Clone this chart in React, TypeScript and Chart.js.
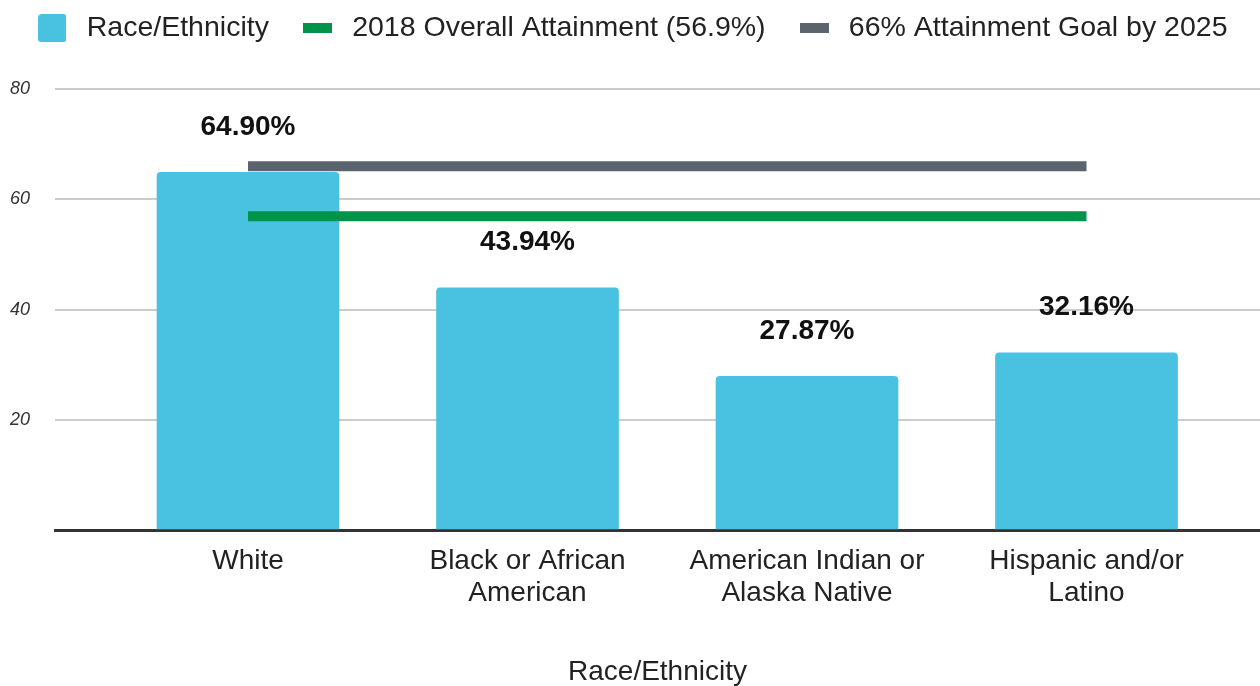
import React, { useEffect, useRef } from "react";
import { Chart, registerables } from "chart.js";

Chart.register(...registerables);

const categories: string[][] = [
  ["White"],
  ["Black or African", "American"],
  ["American Indian or", "Alaska Native"],
  ["Hispanic and/or", "Latino"],
];
const raceValues: number[] = [64.9, 43.94, 27.87, 32.16];
const overallAttainment: number[] = [56.9, 56.9, 56.9, 56.9];
const attainmentGoal: number[] = [66, 66, 66, 66];
const yTicks: number[] = [0, 20, 40, 60, 80];

const seriesNames = [
  "Race/Ethnicity",
  "2018 Overall Attainment (56.9%)",
  "66% Attainment Goal by 2025",
];
const xTitle = "Race/Ethnicity";

const BAR_COLOR = "#49c2e1";
const GREEN = "#00944a";
const GRAY = "#5b646d";
const TEXT = "#222222";
const FONT = "'Liberation Sans', Arial, Helvetica, sans-serif";
const LEGEND_FONT = 28.5;
const LEGEND_PAD = 29;

function makeMarker(color: string, w: number, h: number, r: number) {
  const c = document.createElement("canvas");
  c.width = w;
  c.height = h;
  const g = c.getContext("2d")!;
  g.fillStyle = color;
  g.beginPath();
  if ((g as any).roundRect) (g as any).roundRect(0, 0, w, h, r);
  else g.rect(0, 0, w, h);
  g.fill();
  return c;
}

export default function App() {
  const ref = useRef<HTMLCanvasElement | null>(null);

  useEffect(() => {
    document.body.style.margin = "0";
    if (!ref.current) return;

    const markers = [
      makeMarker(BAR_COLOR, 28, 28, 3),
      makeMarker(GREEN, 29, 10, 0),
      makeMarker(GRAY, 29, 10, 0),
    ];

    const legendSpacer = {
      id: "legendSpacer",
      beforeInit(chart: any) {
        const orig = chart.legend.fit;
        chart.legend.fit = function () {
          orig.call(this);
          this.height += 36.5;
        };
      },
    };

    const valueLabels = {
      id: "valueLabels",
      afterDatasetsDraw(chart: any) {
        const ctx = chart.ctx;
        const meta = chart.getDatasetMeta(0);
        ctx.save();
        ctx.font = `bold 28px ${FONT}`;
        ctx.fillStyle = "#111111";
        ctx.textAlign = "center";
        ctx.textBaseline = "middle";
        meta.data.forEach((bar: any, i: number) => {
          ctx.fillText(raceValues[i].toFixed(2) + "%", bar.x, bar.y - 45);
        });
        ctx.restore();
      },
    };

    const chart = new Chart(ref.current, {
      type: "bar",
      data: {
        datasets: [
          {
            type: "bar",
            label: seriesNames[0],
            data: raceValues.map((v, i) => ({ x: i, y: v })),
            backgroundColor: BAR_COLOR,
            borderRadius: 4,
            barThickness: 182,
            order: 2,
          } as any,
          {
            type: "line",
            label: seriesNames[1],
            data: overallAttainment.map((v, i) => ({ x: i, y: v })),
            borderColor: GREEN,
            backgroundColor: GREEN,
            borderWidth: 10,
            borderCapStyle: "butt",
            pointRadius: 0,
            fill: false,
            order: 1,
          } as any,
          {
            type: "line",
            label: seriesNames[2],
            data: attainmentGoal.map((v, i) => ({ x: i, y: v })),
            borderColor: GRAY,
            backgroundColor: GRAY,
            borderWidth: 10,
            borderCapStyle: "butt",
            pointRadius: 0,
            fill: false,
            order: 1,
          } as any,
        ],
      },
      options: {
        animation: false,
        responsive: true,
        maintainAspectRatio: false,
        layout: { padding: { top: -15, left: 0, right: 0, bottom: 0 } },
        plugins: {
          tooltip: { enabled: false },
          legend: {
            position: "top",
            labels: {
              usePointStyle: true,
              pointStyleWidth: 40,
              padding: LEGEND_PAD,
              color: TEXT,
              font: { family: FONT, size: LEGEND_FONT },
              sort: (a: any, b: any) => a.datasetIndex - b.datasetIndex,
              generateLabels: (c: any) => {
                const items = Chart.defaults.plugins.legend.labels.generateLabels(c);
                items.forEach((it: any) => {
                  it.pointStyle = markers[it.datasetIndex];
                  it.lineWidth = 0;
                });
                return items;
              },
            },
          },
        },
        scales: {
          x: {
            type: "linear",
            bounds: "ticks",
            offset: false,
            min: -0.6905,
            max: 3.6207,
            grid: { display: false, drawTicks: false, offset: false },
            border: { display: true, color: "#333333", width: 3 },
            ticks: {
              stepSize: 1,
              includeBounds: true,
              autoSkip: false,
              maxRotation: 0,
              padding: 15,
              color: TEXT,
              font: { family: FONT, size: 28, lineHeight: 1.16 },
              callback: (v: any) => {
                const n = Number(v);
                return Number.isInteger(n) && categories[n] ? categories[n] : "";
              },
            },
            title: {
              display: true,
              text: xTitle,
              color: TEXT,
              font: { family: FONT, size: 28, lineHeight: 1 },
              padding: { top: 0, bottom: 0 },
            },
            afterFit: (scale: any) => {
              scale.height = 156;
              scale.paddingLeft = 0;
              scale.paddingRight = 0;
            },
          } as any,
          y: {
            min: yTicks[0],
            max: yTicks[yTicks.length - 1],
            border: { display: false },
            grid: {
              drawTicks: false,
              lineWidth: 2,
              color: (ctx: any) =>
                ctx.tick && ctx.tick.value === 0 ? "rgba(0,0,0,0)" : "#cccccc",
            },
            ticks: {
              stepSize: 20,
              padding: 25,
              color: "#333333",
              font: { family: FONT, size: 18, style: "italic" },
              callback: (v: any) => (Number(v) === 0 ? "" : String(v)),
            },
            afterFit: (scale: any) => {
              scale.width = 55;
            },
          } as any,
        },
      },
      plugins: [legendSpacer, valueLabels],
    } as any);

    return () => chart.destroy();
  }, []);

  return (
    <div style={{ width: 1260, height: 686, position: "relative" }}>
      <canvas ref={ref} />
    </div>
  );
}
